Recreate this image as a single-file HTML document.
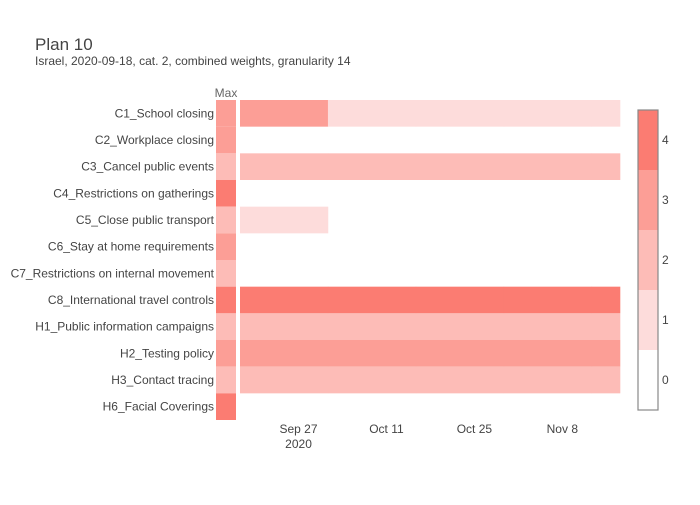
<!DOCTYPE html>
<html><head><meta charset="utf-8"><style>
body{margin:0;background:#fff;font-family:"Liberation Sans",sans-serif}
svg text{font-family:"Liberation Sans",sans-serif}
</style></head><body>
<svg id="chart" width="700" height="500" xmlns="http://www.w3.org/2000/svg">
<rect width="700" height="500" fill="#fff"/>
<text x="35" y="50" font-size="17" fill="#444">Plan 10</text>
<text x="35" y="65" font-size="12" fill="#444">Israel, 2020-09-18, cat. 2, combined weights, granularity 14</text>
<text x="226" y="97" font-size="12" fill="#666" text-anchor="middle">Max</text>
<g id="rows"></g>
<g id="cb"></g>
</svg>
<script>
const categories=["C1_School closing","C2_Workplace closing","C3_Cancel public events","C4_Restrictions on gatherings","C5_Close public transport","C6_Stay at home requirements","C7_Restrictions on internal movement","C8_International travel controls","H1_Public information campaigns","H2_Testing policy","H3_Contact tracing","H6_Facial Coverings"];
const maxValues=[3,3,2,4,2,3,2,4,2,3,2,4];
const periodStartDays=[0,14,28,42,56];
const periodEndDay=60.5;
const cellValues=[
[3,1,1,1,1],[null,null,null,null,null],[2,2,2,2,2],[null,null,null,null,null],
[1,null,null,null,null],[null,null,null,null,null],[null,null,null,null,null],[4,4,4,4,4],
[2,2,2,2,2],[3,3,3,3,3],[2,2,2,2,2],[null,null,null,null,null]];
const xTickDays=[9,23,37,51];
const xTickLabels=["Sep 27","Oct 11","Oct 25","Nov 8"];
const cbTicks=[0,1,2,3,4];
const colors=["#ffffff","#fddcdb","#fdbcb7","#fc9e96","#fb7c72"];
const NS="http://www.w3.org/2000/svg";
const svg=document.getElementById('chart');
const rowsG=document.getElementById('rows');
const top0=100,rowH=320/categories.length,x0=240,pxDay=380/periodEndDay;
const xs=d=>x0+d*pxDay, ys=i=>top0+i*rowH;
function mk(t,a,p){const e=document.createElementNS(NS,t);for(const k in a)e.setAttribute(k,a[k]);(p||svg).appendChild(e);return e;}
categories.forEach((c,i)=>{
 const lab=mk('text',{x:214,y:ys(i)+rowH/2+4,'font-size':12,fill:'#444','text-anchor':'end'},rowsG);
 
 
 lab.textContent=c;
 const m=mk('rect',{x:216,y:ys(i),width:20,height:rowH,fill:colors[maxValues[i]]},rowsG);
 
 
 cellValues[i].forEach((v,j)=>{
  if(v==null)return;
  const s=periodStartDays[j],e=j+1<periodStartDays.length?periodStartDays[j+1]:periodEndDay;
  const r=mk('rect',{x:xs(s),y:ys(i),width:xs(e)-xs(s)+0.3,height:rowH,fill:colors[v]},rowsG);
  
  
 });
});
xTickDays.forEach((d,k)=>{
 const t=mk('text',{x:xs(d)+2,y:433,'font-size':12,fill:'#444','text-anchor':'middle'});
 
 
 t.textContent=xTickLabels[k];
});
const yr=mk('text',{x:xs(9)+2,y:448,'font-size':12,fill:'#444','text-anchor':'middle'});


yr.textContent='2020';
const cbG=document.getElementById('cb');
const cbY=v=>380-v*60;
cbTicks.forEach(v=>{
 const r=mk('rect',{x:638,y:cbY(v)-30,width:20,height:60,fill:colors[v]},cbG);
 
 
 const t=mk('text',{x:662,y:cbY(v)+4,'font-size':12,fill:'#444'},cbG);
 
 
 t.textContent=v;
});
const o=mk('rect',{x:638,y:110,width:20,height:300,fill:'none',stroke:'#888','stroke-width':1.2},cbG);


</script>
</body></html>
